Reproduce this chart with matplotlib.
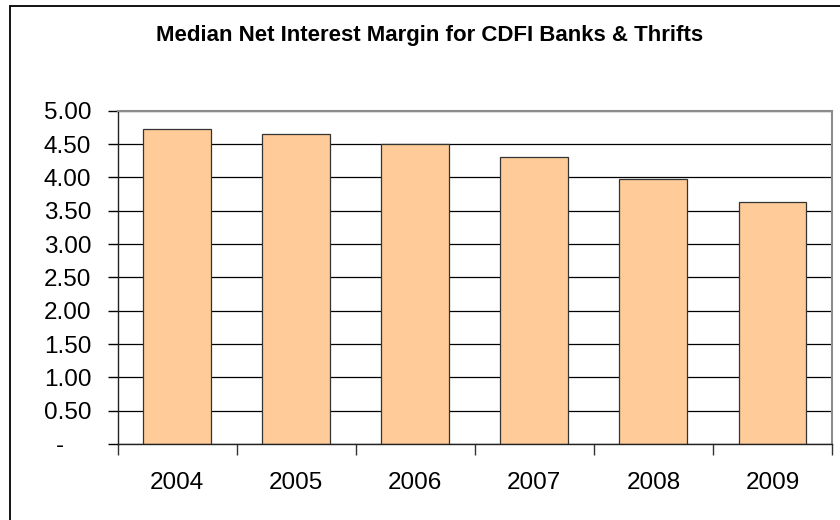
import matplotlib
matplotlib.use("Agg")
import matplotlib.pyplot as plt
from matplotlib.patches import Rectangle
import numpy as np

years = ["2004", "2005", "2006", "2007", "2008", "2009"]
margins = [4.73, 4.65, 4.50, 4.31, 3.98, 3.63]
ytick_values = [0.0, 0.5, 1.0, 1.5, 2.0, 2.5, 3.0, 3.5, 4.0, 4.5, 5.0]
ytick_labels = ["-    ", "0.50", "1.00", "1.50", "2.00", "2.50", "3.00",
                "3.50", "4.00", "4.50", "5.00"]

plt.rcParams["font.family"] = ["Liberation Sans", "DejaVu Sans"]

fig = plt.figure(figsize=(8.4, 5.2), dpi=100)
ax = fig.add_axes([117.7 / 840, 1 - 444 / 520, (832 - 117.7) / 840, (444 - 110.7) / 520])

# outer chart frame
fig.patches.append(Rectangle((10 / 840, -0.05), 1.0, 1 - 6 / 520 + 0.05,
                             transform=fig.transFigure, fill=False,
                             edgecolor="black", linewidth=1.3))

x = np.arange(len(years))
ax.set_axisbelow(True)
ax.yaxis.grid(True, color="black", linewidth=0.9)
ax.bar(x, margins, width=0.57, color="#FFCC99", edgecolor="#333333", linewidth=0.9)

ax.set_xlim(-0.5, len(years) - 0.5)
ax.set_ylim(0, 5.0)
ax.set_yticks(ytick_values)
ax.set_yticklabels(ytick_labels)

ax.set_xticks(x)
ax.set_xticklabels(years)
ax.set_xticks(np.arange(-0.5, len(years), 1.0), minor=True)
ax.tick_params(axis="x", which="major", length=0, pad=20, labelsize=17.5)
ax.tick_params(axis="x", which="minor", length=8, width=1, direction="out", color="#333333")
ax.tick_params(axis="y", length=7, width=1, direction="out", pad=12, labelsize=17.5)

for side in ("top", "right"):
    ax.spines[side].set_color("#8c8c8c")
    ax.spines[side].set_linewidth(1.5)
for side in ("left", "bottom"):
    ax.spines[side].set_color("#222222")
    ax.spines[side].set_linewidth(1.0)

fig.text(430 / 840, 1 - 35 / 520, "Median Net Interest Margin for CDFI Banks & Thrifts",
         ha="center", va="center", fontsize=16, fontweight="bold")

fig.savefig("out.png", dpi=100)
